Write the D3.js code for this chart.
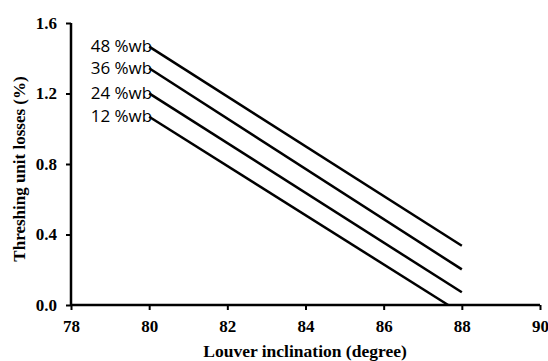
<!DOCTYPE html>
<html>
<head>
<meta charset="utf-8">
<script src="https://cdn.jsdelivr.net/npm/d3@7"></script>
<style>
  body { margin: 0; background: #fff; }
  .tick text { font-family: "Liberation Serif", "Times New Roman", serif; font-weight: bold; font-size: 17px; fill: #000; }
</style>
</head>
<body>
<div id="chart"></div>
<script>
// moisture content series (% wet basis)
const seriesNames = ["48 %wb", "36 %wb", "24 %wb", "12 %wb"];
const seriesX = [
  [80, 88],
  [80, 88],
  [80, 88],
  [80, 87.65]
];
const seriesY = [
  [1.466, 0.336],
  [1.343, 0.202],
  [1.201, 0.072],
  [1.068, 0.0]
];
const xTicks = [78, 80, 82, 84, 86, 88, 90];
const yTicks = [0.0, 0.4, 0.8, 1.2, 1.6];

const width = 548, height = 361;
const margin = { left: 71, right: 8, top: 23, bottom: 56 };

const svg = d3.select("#chart").append("svg")
  .attr("width", width)
  .attr("height", height);

const x = d3.scaleLinear().domain([78, 90]).range([margin.left, width - margin.right]);
const y = d3.scaleLinear().domain([0, 1.6]).range([height - margin.bottom, margin.top]);

const xAxis = svg.append("g")
  .attr("transform", `translate(0, ${y(0)})`)
  .call(d3.axisBottom(x).tickValues(xTicks).tickFormat(d3.format("d")).tickSize(5).tickPadding(10));

const yAxis = svg.append("g")
  .attr("transform", `translate(${x(78)}, 0)`)
  .call(d3.axisLeft(y).tickValues(yTicks).tickFormat(d3.format(".1f")).tickSize(5).tickPadding(9));

[xAxis, yAxis].forEach(a => {
  a.select(".domain").attr("stroke", "#000").attr("stroke-width", 2.5);
  a.selectAll(".tick line").attr("stroke", "#000").attr("stroke-width", 2);
});
yAxis.select(".domain").attr("d", `M-0,${y(1.6)}V${y(0)}`);
xAxis.select(".domain").attr("d", `M${x(78)},0H${x(90)}`);

const line = d3.line().x(d => x(d[0])).y(d => y(d[1]));

seriesNames.forEach((name, i) => {
  const pts = seriesX[i].map((v, j) => [v, seriesY[i][j]]);
  svg.append("path")
    .datum(pts)
    .attr("fill", "none")
    .attr("stroke", "#000")
    .attr("stroke-width", 2.5)
    .attr("d", line);

  svg.append("text")
    .attr("x", x(seriesX[i][0]) + 3)
    .attr("y", y(seriesY[i][0]) + 5.5)
    .attr("text-anchor", "end")
    .style("font-family", "'Open Sans', 'Liberation Sans', sans-serif")
    .style("font-size", "17px")
    .text(name);
});

svg.append("text")
  .attr("x", 305)
  .attr("y", height - 4)
  .attr("text-anchor", "middle")
  .style("font-family", "'Liberation Serif', 'Times New Roman', serif")
  .style("font-weight", "bold")
  .style("font-size", "17.5px")
  .text("Louver inclination (degree)");

svg.append("text")
  .attr("transform", `translate(25, ${(y(0) + y(1.6)) / 2 + 5}) rotate(-90)`)
  .attr("text-anchor", "middle")
  .style("font-family", "'Liberation Serif', 'Times New Roman', serif")
  .style("font-weight", "bold")
  .style("font-size", "17px")
  .text("Threshing unit losses (%)");
</script>
</body>
</html>
